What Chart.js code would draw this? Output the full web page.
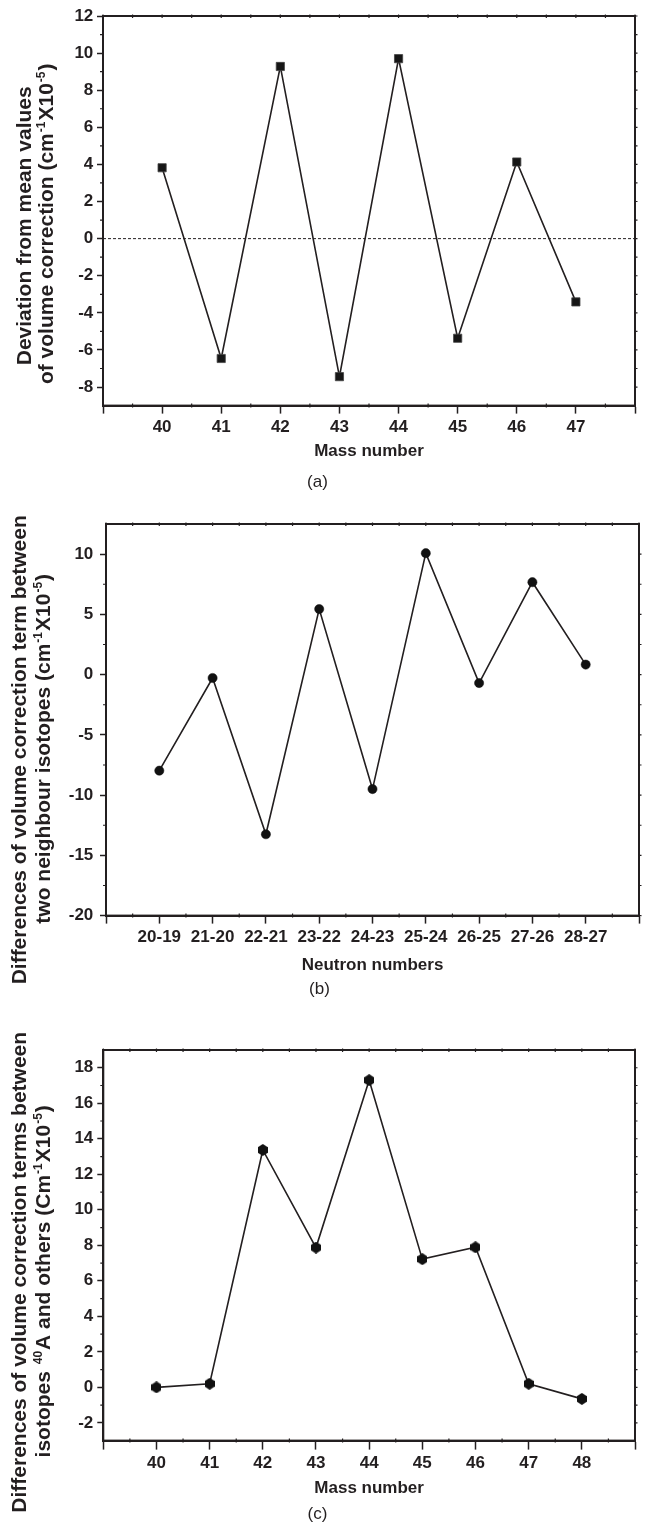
<!DOCTYPE html>
<html><head><meta charset="utf-8">
<script src="https://cdn.jsdelivr.net/npm/chart.js@4.4.1/dist/chart.umd.min.js"></script>
<style>
html,body{margin:0;padding:0;background:#fff;}
body{width:647px;height:1526px;position:relative;overflow:hidden;}
canvas{position:absolute;left:0;}
</style></head><body>
<canvas id="ca" width="647" height="495" style="top:0px"></canvas>
<canvas id="cb" width="647" height="508" style="top:495px"></canvas>
<canvas id="cc" width="647" height="523" style="top:1003px"></canvas>
<script>
// ---------- data ----------
// (a) deviation from mean values of volume correction
const massA = [40, 41, 42, 43, 44, 45, 46, 47];
const devA = [3.82, -6.46, 9.28, -7.44, 9.7, -5.37, 4.13, -3.41];
const aXTicks = [39, 40, 41, 42, 43, 44, 45, 46, 47, 48];
const aXMinor = [39.5, 40.5, 41.5, 42.5, 43.5, 44.5, 45.5, 46.5, 47.5];
const aYTicks = [-8, -6, -4, -2, 0, 2, 4, 6, 8, 10, 12];
const aYMinor = [-7, -5, -3, -1, 1, 3, 5, 7, 9, 11];
const aRef = 0;

// (b) differences between two neighbour isotopes
const neutronPairs = ['20-19', '21-20', '22-21', '23-22', '24-23', '25-24', '26-25', '27-26', '28-27'];
const diffB = [-7.97, -0.28, -13.25, 5.44, -9.5, 10.08, -0.7, 7.67, 0.83];
const bXTicks = [0, 1, 2, 3, 4, 5, 6, 7, 8, 9, 10];
const bXMinor = [0.5, 1.5, 2.5, 3.5, 4.5, 5.5, 6.5, 7.5, 8.5, 9.5];
const bYTicks = [-20, -15, -10, -5, 0, 5, 10];
const bYMinor = [-17.5, -12.5, -7.5, -2.5, 2.5, 7.5];

// (c) differences between 40A and others
const massC = [40, 41, 42, 43, 44, 45, 46, 47, 48];
const diffC = [0, 0.2, 13.37, 7.87, 17.3, 7.22, 7.89, 0.2, -0.65];
const cXTicks = [39, 40, 41, 42, 43, 44, 45, 46, 47, 48, 49];
const cXMinor = [39.5, 40.5, 41.5, 42.5, 43.5, 44.5, 45.5, 46.5, 47.5, 48.5];
const cYTicks = [-2, 0, 2, 4, 6, 8, 10, 12, 14, 16, 18];
const cYMinor = [-1, 1, 3, 5, 7, 9, 11, 13, 15, 17];

// y-axis titles (segments; sup = superscript)
const aTitle = [
  [{t: 'Deviation from mean values'}],
  [{t: 'of volume correction (cm'}, {t: '-1', sup: true}, {t: 'X10'}, {t: '-5', sup: true}, {t: ')'}]
];
const bTitle = [
  [{t: 'Differences of volume correction term between'}],
  [{t: 'two neighbour isotopes (cm'}, {t: '-1', sup: true}, {t: 'X10'}, {t: '-5', sup: true}, {t: ')'}]
];
const cTitle = [
  [{t: 'Differences of volume correction terms between'}],
  [{t: 'isotopes '}, {t: '40', sup: true}, {t: 'A and others (Cm'}, {t: '-1', sup: true}, {t: 'X10'}, {t: '-5', sup: true}, {t: ')'}]
];

// ---------- style ----------
const FONT = "'Liberation Sans', Arial, Helvetica, sans-serif";
const INK = '#231f20';

const framePlugin = {
  id: 'frame',
  afterDraw(chart, args, opts) {
    const {ctx, chartArea: {left, top, right, bottom}, scales: {x, y}} = chart;
    ctx.save();
    ctx.strokeStyle = INK;
    ctx.lineWidth = 2;
    ctx.strokeRect(left, top, right - left, bottom - top);
    ctx.lineWidth = 1.2;
    ctx.beginPath();
    for (const v of opts.minorY) { const py = y.getPixelForValue(v); ctx.moveTo(left - 3, py); ctx.lineTo(left, py); }
    for (const v of opts.minorX) { const px = x.getPixelForValue(v); ctx.moveTo(px, bottom - 2); ctx.lineTo(px, bottom + 2); }
    for (const v of opts.minorX.concat(opts.majorX)) { const px = x.getPixelForValue(v); ctx.moveTo(px, top - 1.5); ctx.lineTo(px, top + 2); }
    for (const v of opts.minorY.concat(opts.majorY)) { const py = y.getPixelForValue(v); ctx.moveTo(right - 1, py); ctx.lineTo(right + 2.5, py); }
    ctx.stroke();
    ctx.restore();
  }
};

// rotated two-line y-axis title with real superscripts
function yTitlePlugin(lines, baseX, shift) {
  const font = 'bold 21px ' + FONT;
  const supFont = 'bold 12px ' + FONT;
  return {
    id: 'ytitle',
    afterDraw(chart) {
      const {ctx, chartArea} = chart;
      const yc = (chartArea.top + chartArea.bottom) / 2;
      ctx.save();
      ctx.fillStyle = INK;
      lines.forEach((segs, i) => {
        let w = 0;
        const parts = segs.map(s => {
          const f = s.sup ? supFont : font;
          ctx.font = f;
          const m = ctx.measureText(s.t).width + (s.sup ? 2 : 0);
          w += m;
          return {s, f, m};
        });
        ctx.save();
        ctx.translate(baseX[i], yc + shift[i]);
        ctx.rotate(-Math.PI / 2);
        ctx.textBaseline = 'alphabetic';
        ctx.textAlign = 'left';
        let px = -w / 2;
        for (const p of parts) {
          ctx.font = p.f;
          ctx.fillText(p.s.t, px + (p.s.sup ? 1 : 0), p.s.sup ? -8 : 0);
          px += p.m;
        }
        ctx.restore();
      });
      ctx.restore();
    }
  };
}

function hexStyle(w, h) {
  const c = document.createElement('canvas');
  c.width = w; c.height = h;
  const g = c.getContext('2d');
  g.fillStyle = '#111';
  g.beginPath();
  g.moveTo(w / 2, 0); g.lineTo(w, h * 0.27); g.lineTo(w, h * 0.73);
  g.lineTo(w / 2, h); g.lineTo(0, h * 0.73); g.lineTo(0, h * 0.27);
  g.closePath(); g.fill();
  return c;
}

function xScale(min, max, ticksArr, labelFn, titleText, height, tickLen, pad) {
  return {
    type: 'linear', min, max,
    afterBuildTicks: s => { s.ticks = ticksArr.map(v => ({value: v})); },
    afterFit: s => { s.height = height; },
    grid: {display: true, drawOnChartArea: false, drawTicks: true, tickLength: tickLen, tickWidth: 1.5, color: INK, tickColor: INK},
    border: {display: true, color: INK, width: 2},
    ticks: {padding: pad, color: INK, maxRotation: 0, autoSkip: false, font: {family: FONT, size: 17, weight: 'bold'}, callback: labelFn},
    title: {display: true, text: titleText, color: INK, font: {family: FONT, size: 17, weight: 'bold', lineHeight: 1.2}, padding: {top: 0, bottom: 0}}
  };
}

function yScale(min, max, ticksArr, width, pad) {
  return {
    type: 'linear', min, max,
    afterBuildTicks: s => { s.ticks = ticksArr.map(v => ({value: v})); },
    afterFit: s => { s.width = width; },
    grid: {display: true, drawOnChartArea: false, drawTicks: true, tickLength: 6, tickWidth: 1.5, color: INK, tickColor: INK},
    border: {display: true, color: INK, width: 2},
    ticks: {padding: pad, color: INK, autoSkip: false, font: {family: FONT, size: 17, weight: 'bold'}, callback: v => String(v)},
    title: {display: false}
  };
}

function baseOptions(pad, sub, subPad, minorX, minorY, majorX, majorY, scales) {
  return {
    responsive: false, animation: false, devicePixelRatio: 1,
    layout: {padding: pad},
    plugins: {
      legend: {display: false}, tooltip: {enabled: false}, title: {display: false},
      subtitle: {display: true, position: 'bottom', text: sub, color: INK, font: {family: FONT, size: 17, weight: 'normal', lineHeight: 1.2}, padding: subPad},
      frame: {minorX, minorY, majorX, majorY}
    },
    scales
  };
}

// ---------- chart (a) ----------
new Chart(document.getElementById('ca'), {
  type: 'scatter',
  data: {
    datasets: [
      {data: massA.map((m, i) => ({x: m, y: devA[i]})), showLine: true, borderColor: INK, borderWidth: 1.6,
       pointStyle: 'rect', pointRadius: 5.8, pointBackgroundColor: '#161616', pointBorderColor: '#444', pointBorderWidth: 0.8},
      {data: [{x: aXTicks[0], y: aRef}, {x: aXTicks[aXTicks.length - 1], y: aRef}], showLine: true, borderColor: INK, borderWidth: 1,
       borderDash: [3, 2], pointRadius: 0}
    ]
  },
  options: baseOptions({left: 0, top: 16, right: 12, bottom: 0}, '(a)', {top: 10.8, bottom: 2}, aXMinor, aYMinor, aXTicks, aYTicks, {
    x: xScale(39, 48, aXTicks, v => massA.includes(v) ? String(v) : '', 'Mass number', 56.2, 8, 4),
    y: yScale(-9, 12, aYTicks, 103, 3.7)
  }),
  plugins: [framePlugin, yTitlePlugin(aTitle, [30.7, 52.7], [15, 13])]
});

// ---------- chart (b) ----------
new Chart(document.getElementById('cb'), {
  type: 'scatter',
  data: {
    datasets: [
      {data: diffB.map((d, i) => ({x: i + 1, y: d})), showLine: true, borderColor: INK, borderWidth: 1.6,
       pointStyle: 'circle', pointRadius: 4.6, pointBackgroundColor: '#111', pointBorderColor: '#111', pointBorderWidth: 0.5}
    ]
  },
  options: baseOptions({left: 0, top: 29, right: 8, bottom: 0}, '(b)', {top: 3.8, bottom: 3}, bXMinor, bYMinor, bXTicks, bYTicks, {
    x: xScale(0, 10, bXTicks, v => neutronPairs[v - 1] || '', 'Neutron numbers', 60.2, 8, 4),
    y: yScale(-20, 12.5, bYTicks, 106, 6.7)
  }),
  plugins: [framePlugin, yTitlePlugin(bTitle, [26, 50], [30, 29])]
});

// ---------- chart (c) ----------
new Chart(document.getElementById('cc'), {
  type: 'scatter',
  data: {
    datasets: [
      {data: massC.map((m, i) => ({x: m, y: diffC[i]})), showLine: true, borderColor: INK, borderWidth: 1.6,
       pointStyle: hexStyle(10, 12), pointRadius: 5}
    ]
  },
  options: baseOptions({left: 0, top: 47, right: 12, bottom: 0}, '(c)', {top: 5.8, bottom: 1}, cXMinor, cYMinor, cXTicks, cYTicks, {
    x: xScale(39, 49, cXTicks, v => massC.includes(v) ? String(v) : '', 'Mass number', 58.2, 9, 4),
    y: yScale(-3, 19, cYTicks, 103.3, 4)
  }),
  plugins: [framePlugin, yTitlePlugin(cTitle, [26, 50], [27, 36])]
});
</script>
</body></html>
